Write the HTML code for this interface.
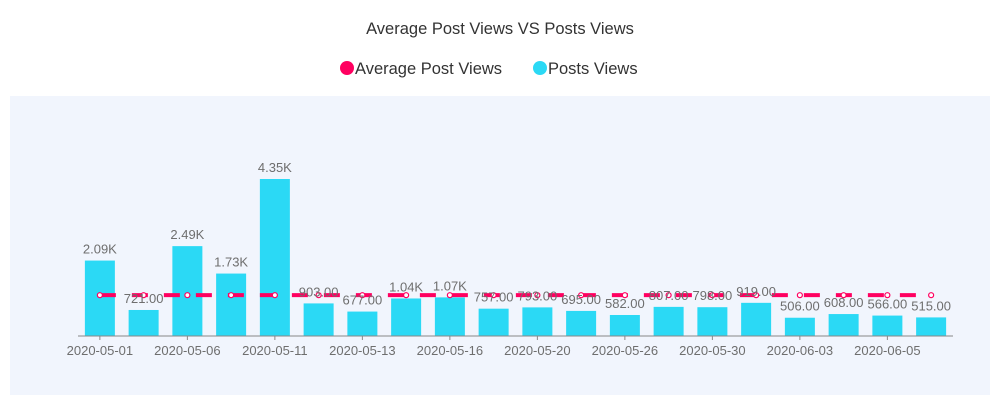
<!DOCTYPE html>
<html><head><meta charset="utf-8"><style>
body{margin:0;background:#fff;width:1000px;height:406px;overflow:hidden;font-family:"Liberation Sans",sans-serif}
</style></head><body>
<svg width="1000" height="406">
<text x="500" y="34" text-anchor="middle" font-size="16.5" fill="#333">Average Post Views VS Posts Views</text>
<g><circle cx="347" cy="68" r="7" fill="#ff0060"/><text x="355" y="74" font-size="16.5" fill="#333">Average Post Views</text></g>
<g><circle cx="540" cy="68" r="7" fill="#2bd9f5"/><text x="548" y="74" font-size="16.5" fill="#333">Posts Views</text></g>
<rect x="10" y="96" width="980" height="299" fill="#f1f5fd"/>
<g id="plot"></g>
</svg>
<script>
const categories=["2020-05-01","2020-05-03","2020-05-06","2020-05-08","2020-05-11","2020-05-12","2020-05-13","2020-05-15","2020-05-16","2020-05-18","2020-05-20","2020-05-23","2020-05-26","2020-05-28","2020-05-30","2020-06-01","2020-06-03","2020-06-04","2020-06-05","2020-06-07"];
const postViews=[2090,721,2490,1730,4350,903,677,1040,1070,757,793,695,582,807,798,919,506,608,566,515];
const valueLabels=["2.09K","721.00","2.49K","1.73K","4.35K","903.00","677.00","1.04K","1.07K","757.00","793.00","695.00","582.00","807.00","798.00","919.00","506.00","608.00","566.00","515.00"];
const avgViews=[1131,1131,1131,1131,1131,1131,1131,1131,1131,1131,1131,1131,1131,1131,1131,1131,1131,1131,1131,1131];
const NS="http://www.w3.org/2000/svg";
const g=document.getElementById('plot');
const x0=78,x1=953,base=336,band=(x1-x0)/categories.length;
const xC=i=>x0+band*(i+0.5);
const yS=v=>base-v*(157/4350);
function mk(t,a,p){const e=document.createElementNS(NS,t);for(const k in a)e.setAttribute(k,a[k]);(p||g).appendChild(e);return e;}
postViews.forEach((v,i)=>{
 const r=mk('rect',{x:xC(i)-15,y:yS(v),width:30,height:base-yS(v),fill:'#2bd9f5'});
 
 
});
const ax=mk('line',{x1:x0,x2:x1,y1:base,y2:base,stroke:'#888','stroke-width':1});


categories.forEach((c,i)=>{
 if(i%2)return;
 mk('line',{x1:xC(i),x2:xC(i),y1:base,y2:base+4,stroke:'#888'});
 const t=mk('text',{x:xC(i),y:base+19,'text-anchor':'middle','font-size':13,fill:'#6e6e6e'});
 t.textContent=c;
 
 
});
let d='';avgViews.forEach((v,i)=>{d+=(i?'L':'M')+xC(i)+' '+yS(v);});
const ln=mk('path',{d:d,fill:'none',stroke:'#ff0060','stroke-width':4,'stroke-dasharray':'16 16'});


avgViews.forEach((v,i)=>{
 const c=mk('circle',{cx:xC(i),cy:yS(v),r:2.5,fill:'#fff',stroke:'#ff0060','stroke-width':1.2});
 
 
});
postViews.forEach((v,i)=>{
 const t=mk('text',{x:xC(i),y:yS(v)-7,'text-anchor':'middle','font-size':13,fill:'#6e6e6e'});
 t.textContent=valueLabels[i];
 
 
});
</script>
</body></html>
